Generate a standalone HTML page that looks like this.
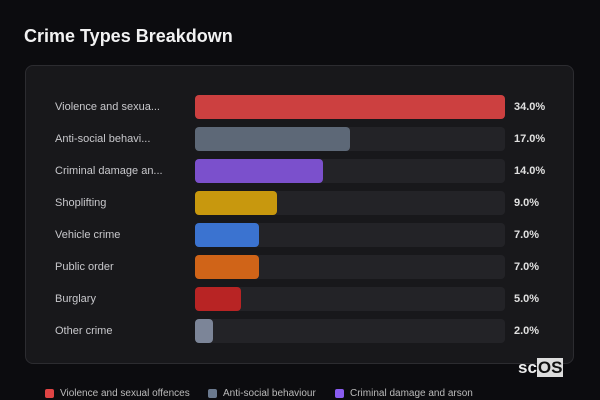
<!DOCTYPE html>
<html><head><meta charset="utf-8"><style>
body{margin:0;width:600px;height:400px;background:#0c0c0f;font-family:"Liberation Sans","DejaVu Sans",sans-serif;overflow:hidden;position:relative}
.title{position:absolute;left:24px;top:26px;color:#f2f2f2;font-weight:bold;font-size:18px}
.card{position:absolute;left:25px;top:65px;width:549px;height:299px;background:#18181b;border:1px solid #2c2c30;border-radius:8px;box-sizing:border-box}
.lbl{position:absolute;left:55px;font-size:11px;color:#c8c8cc}
.val{position:absolute;left:514px;font-size:11px;color:#e0e0e0;font-weight:bold}
.track{position:absolute;left:195px;width:310px;height:24px;background:#232327;border-radius:4px}
.bar{position:absolute;left:195px;height:24px;border-radius:4px}
.leg{position:absolute;top:388px;font-size:10px;color:#bbb;display:flex;align-items:center}
.leg i{display:inline-block;width:9px;height:9px;border-radius:2px;margin-right:6px}
.logo{position:absolute;left:518px;top:358px;font-size:17px;font-weight:bold;color:#eee}
.logo span{background:#ddd;color:#111;padding:0 1px}
</style></head><body>
<div class="title">Crime Types Breakdown</div>
<div class="card"></div>
<div id="rows"></div>
<div class="logo">sc<span>OS</span></div>
<div class="leg" style="left:45px"><i style="background:#e04444"></i>Violence and sexual offences</div>
<div class="leg" style="left:208px"><i style="background:#6b7a8f"></i>Anti-social behaviour</div>
<div class="leg" style="left:335px"><i style="background:#8a5cf0"></i>Criminal damage and arson</div>
<script>
const categories=["Violence and sexua...","Anti-social behavi...","Criminal damage an...","Shoplifting","Vehicle crime","Public order","Burglary","Other crime"];
const values=[34,17,14,9,7,7,5,2];
const colors=["#cc4040","#5d6877","#7b50cc","#c8980e","#3b73d0","#d06418","#b82424","#7c8598"];
const maxV=34;
const x=v=>v/maxV*310;
const rows=document.getElementById('rows');
values.forEach((v,i)=>{
  const top=95+i*32;
  const l=document.createElement('div');l.className='lbl';l.style.top=(top+6)+'px';l.textContent=categories[i];
  
  
  const t=document.createElement('div');t.className='track';t.style.top=top+'px';
  
  
  const b=document.createElement('div');b.className='bar';b.style.top=top+'px';b.style.width=x(v)+'px';b.style.background=colors[i];
  
  
  const p=document.createElement('div');p.className='val';p.style.top=(top+6)+'px';p.textContent=v.toFixed(1)+'%';
  
  
  rows.append(l,t,b,p);
});
</script>
</body></html>
